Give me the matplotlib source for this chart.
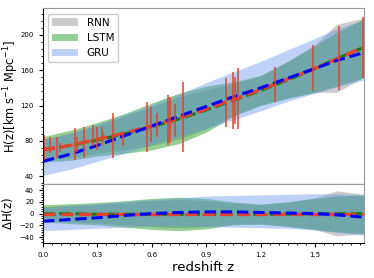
import numpy as np
import matplotlib
matplotlib.use('Agg')
import matplotlib.pyplot as plt
from matplotlib.ticker import MultipleLocator, AutoMinorLocator

# redshift grid for the reconstructions
z_grid = [0.0, 0.15, 0.3, 0.45, 0.6, 0.75, 0.9, 1.05, 1.2, 1.35, 1.5, 1.62, 1.77]
# reference H(z) (red dashed)
H_ref = [70, 75, 82, 89, 97, 106, 116, 127, 138, 150, 162, 173, 186]

# deviations from the reference
rnn_mean = [0, 0, 0, 0, 0, 0, 0, 0, 0, 0, 0, 0, 0]
rnn_lo = [-12, -14, -16, -19, -22, -24, -22, -18, -17, -21, -27, -38, -34]
rnn_hi = [12, 14, 16, 19, 22, 24, 22, 18, 16, 20, 27, 39, 33]
lstm_mean = [0, 0, -1, -1, -1, -1, -1, -1, -1, -1, 0, 0, 0]
lstm_lo = [-14, -17, -19, -23, -27, -29, -26, -19, -18, -22, -27, -31, -34]
lstm_hi = [15, 17, 19, 22, 26, 28, 26, 20, 16, 20, 26, 30, 32]
gru_mean = [-13, -10, -7, -3, 0, 2, 3, 3, 2, 1, 0, -2, -6]
gru_lo = [-29, -27, -25, -23, -21, -21, -22, -23, -24, -25, -28, -32, -37]
gru_hi = [10, 14, 17, 21, 24, 27, 30, 31, 32, 33, 34, 34, 31]

# data points with error bars
z_obs = [0.006, 0.04, 0.076, 0.094, 0.176, 0.186, 0.228, 0.278, 0.296, 0.323, 0.332,
         0.387, 0.442, 0.575, 0.596, 0.627, 0.69, 0.70, 0.73, 0.77,
         1.01, 1.05, 1.06, 1.075, 1.28, 1.49, 1.63, 1.765]
H_lo = [59, 66, 61, 67, 59, 67, 61, 74, 70, 74, 79,
        61, 74, 68, 79, 84, 76, 78, 85, 68,
        96, 94, 99, 94, 124, 136, 138, 151]
H_hi = [87, 84, 84, 78, 95, 84, 96, 98, 96, 96, 90,
        112, 90, 124, 118, 112, 132, 130, 122, 147,
        151, 158, 152, 162, 164, 188, 210, 220]

z = np.array(z_grid)
ref = np.array(H_ref)
H_obs = (np.array(H_lo) + np.array(H_hi)) / 2
H_err = (np.array(H_hi) - np.array(H_lo)) / 2

models = [
    ('RNN', rnn_mean, rnn_lo, rnn_hi, 'gray', 0.4),
    ('LSTM', lstm_mean, lstm_lo, lstm_hi, '#2ca02c', 0.5),
    ('GRU', gru_mean, gru_lo, gru_hi, 'cornflowerblue', 0.42),
]

fig, (ax1, ax2) = plt.subplots(2, 1, sharex=True, figsize=(3.74, 2.78), dpi=100,
                               gridspec_kw={'height_ratios': [3, 1], 'hspace': 0})
fig.subplots_adjust(left=0.115, right=0.973, top=0.970, bottom=0.126)

for name, m, lo, hi, c, a in models:
    ax1.fill_between(z, ref + np.array(lo), ref + np.array(hi), color=c, alpha=a, lw=0, label=name)
    ax2.fill_between(z, lo, hi, color=c, alpha=a, lw=0)

ax1.plot(z, ref + np.array(lstm_mean), '--', color='#1a7a1a', lw=2.2)
ax1.plot(z, ref, '--', color='#e5432b', lw=2.4)
ax1.plot(z, ref + np.array(gru_mean), '--', color='blue', lw=2.2)
ax1.errorbar(z_obs, H_obs, yerr=H_err, fmt='none', ecolor='#e5432b', elinewidth=1.1)

ax2.plot(z, lstm_mean, '--', color='#1a7a1a', lw=2.2)
ax2.plot(z, np.zeros_like(z), '--', color='#e5432b', lw=2.4)
ax2.plot(z, gru_mean, '--', color='blue', lw=2.2)

ax1.set_xlim(0, 1.77)
ax1.set_ylim(31, 230)
ax2.set_ylim(-50, 50)

ax1.set_yticks([40, 80, 120, 160, 200])
ax2.set_yticks([-40, -20, 0, 20, 40])
ax2.set_xticks([0.0, 0.3, 0.6, 0.9, 1.2, 1.5])
ax2.xaxis.set_minor_locator(MultipleLocator(0.05))
for ax in (ax1, ax2):
    ax.yaxis.set_minor_locator(AutoMinorLocator(5))
    ax.tick_params(labelsize=5)
    ax.tick_params(which='minor', length=1.5)
    ax.tick_params(which='major', length=3)
    for s in ('top', 'right'):
        ax.spines[s].set_color('#999999')

ax1.set_ylabel(r'H(z)[km s$^{-1}$ Mpc$^{-1}$]', fontsize=8.3)
ax2.set_ylabel(r'$\Delta$H(z)', fontsize=8.5)
ax1.yaxis.set_label_coords(-0.068, 0.5)
ax2.yaxis.set_label_coords(-0.088, 0.5)
ax2.set_xlabel('redshift z', fontsize=9.5, labelpad=2)

ax1.legend(loc='upper left', fontsize=7.5, handlelength=2.5, framealpha=1, edgecolor='#cccccc')

fig.savefig('out.png', dpi=100)
